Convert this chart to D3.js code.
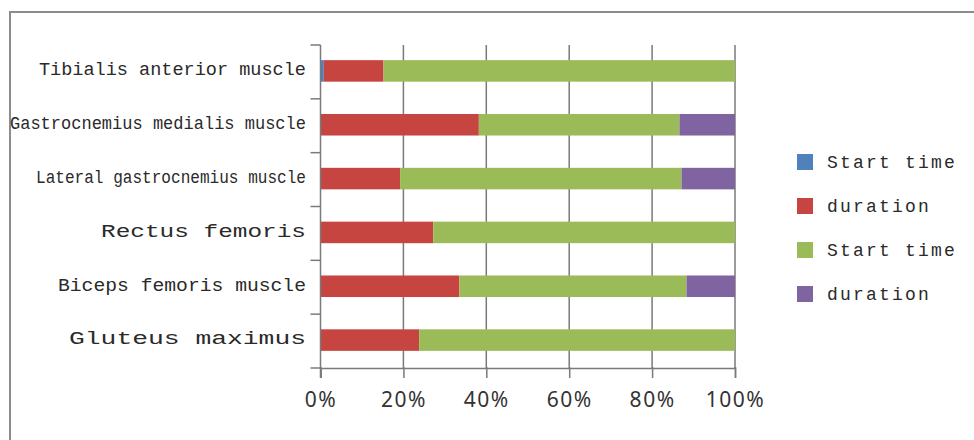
<!DOCTYPE html>
<html>
<head>
<meta charset="utf-8">
<script src="https://cdn.jsdelivr.net/npm/d3@7"></script>
<style>
  body { margin: 0; background: #fff; }
  svg { display: block; }
</style>
</head>
<body>
<svg id="svg"></svg>
<script>
// muscles, top to bottom
const muscles = [
  "Tibialis anterior muscle",
  "Gastrocnemius medialis muscle",
  "Lateral gastrocnemius muscle",
  "Rectus femoris",
  "Biceps femoris muscle",
  "Gluteus maximus"
];
const seriesNames = ["Start time", "duration", "Start time", "duration"];
// percent of the gait cycle
const startTime1 = [0.8, 0, 0, 0, 0, 0];
const duration1 = [14.4, 38.2, 19.2, 27.2, 33.5, 23.8];
const startTime2 = [84.8, 48.4, 67.9, 72.8, 54.8, 76.2];
const duration2 = [0, 13.4, 12.9, 0, 11.7, 0];
const tickValues = [0, 0.2, 0.4, 0.6, 0.8, 1];

const colors = ["#4f81bd", "#c64541", "#9bbb59", "#8064a2"];
// the labels in the picture are squeezed / stretched to these widths
const labelWidths = [267, 296, 270, 205, 248, 237];

function sketch() {
  let svg = d3.select("#svg");
  let width = 974;
  let height = 440;
  svg.attr("width", width).attr("height", height);

  let marginLeft = 320.5;
  let plotRight = 735;
  let plotTop = 45;
  let plotBottom = 368;
  let axisColor = "#7a7a7a";

  // outer frame (runs off the right and bottom edges)
  svg.append("rect")
    .attr("x", 10).attr("y", 12)
    .attr("width", 1000).attr("height", 500)
    .attr("fill", "none")
    .attr("stroke", "#8c8c8c")
    .attr("stroke-width", 2);

  let rows = muscles.map((m, i) => ({
    muscle: m,
    s0: startTime1[i], d0: duration1[i],
    s1: startTime2[i], d1: duration2[i]
  }));
  let keys = ["s0", "d0", "s1", "d1"];

  let stack = d3.stack().keys(keys).offset(d3.stackOffsetExpand);
  let layers = stack(rows);

  let x = d3.scaleLinear().domain([0, 1]).range([marginLeft, plotRight]);
  let y = d3.scaleBand()
    .domain(muscles)
    .range([plotTop, plotBottom])
    .paddingInner(0.6)
    .paddingOuter(0.3);

  let g = svg.append("g");

  // vertical gridlines
  g.selectAll("line.grid")
    .data(tickValues.slice(1))
    .enter().append("line")
    .attr("class", "grid")
    .attr("x1", d => x(d)).attr("x2", d => x(d))
    .attr("y1", plotTop).attr("y2", plotBottom)
    .attr("stroke", axisColor)
    .attr("stroke-width", 1.5);

  // bars
  let layer = g.selectAll("g.layer")
    .data(layers)
    .enter().append("g")
    .attr("class", "layer")
    .attr("fill", (d, i) => colors[i]);

  layer.selectAll("rect")
    .data(d => d)
    .enter().append("rect")
    .attr("x", d => x(d[0]))
    .attr("width", d => Math.max(0, x(d[1]) - x(d[0])))
    .attr("y", d => y(d.data.muscle) - 1)
    .attr("height", y.bandwidth());

  // x axis
  let xAxis = d3.axisBottom(x)
    .tickValues(tickValues)
    .tickFormat(d3.format(".0%"))
    .tickSize(10)
    .tickPadding(14);

  let ax = g.append("g")
    .attr("transform", `translate(0,${plotBottom})`)
    .call(xAxis);
  ax.select(".domain").attr("stroke", axisColor).attr("stroke-width", 1.5);
  ax.selectAll(".tick line")
    .attr("stroke", axisColor).attr("stroke-width", 1.5)
    .attr("y1", -1);
  ax.selectAll(".tick text")
    .attr("font-family", "'Noto Sans', sans-serif")
    .attr("font-size", "21px")
    .attr("letter-spacing", "1.5px")
    .attr("fill", "#333");

  // y axis line with category ticks
  g.append("line")
    .attr("x1", marginLeft).attr("x2", marginLeft)
    .attr("y1", plotTop).attr("y2", plotBottom + 10)
    .attr("stroke", axisColor).attr("stroke-width", 1.5);

  let bounds = muscles.map((m, i) => plotTop + i * y.step());
  bounds.push(plotBottom);
  g.selectAll("line.ytick")
    .data(bounds)
    .enter().append("line")
    .attr("class", "ytick")
    .attr("x1", marginLeft - 10).attr("x2", marginLeft)
    .attr("y1", d => d).attr("y2", d => d)
    .attr("stroke", axisColor).attr("stroke-width", 1.5);

  // category labels
  g.selectAll("text.label")
    .data(muscles)
    .enter().append("text")
    .attr("class", "label")
    .attr("x", 306)
    .attr("y", d => y(d) + y.bandwidth() / 2 - 3)
    .attr("dy", "0.35em")
    .attr("text-anchor", "end")
    .attr("font-family", "'Liberation Mono', monospace")
    .attr("font-size", "18px")
    .attr("fill", "#2a2a2a")
    .attr("textLength", (d, i) => labelWidths[i])
    .attr("lengthAdjust", "spacingAndGlyphs")
    .text(d => d);

  // legend
  let legend = svg.append("g").attr("transform", "translate(797,0)");
  let items = legend.selectAll("g.item")
    .data(seriesNames)
    .enter().append("g")
    .attr("class", "item")
    .attr("transform", (d, i) => `translate(0,${162 + i * 44})`);

  items.append("rect")
    .attr("x", 0).attr("y", -8)
    .attr("width", 16).attr("height", 16)
    .attr("fill", (d, i) => colors[i]);

  items.append("text")
    .attr("x", 30)
    .attr("dy", "0.35em")
    .attr("font-family", "'Liberation Mono', monospace")
    .attr("font-size", "18px")
    .attr("letter-spacing", "2.2px")
    .attr("fill", "#2a2a2a")
    .text(d => d);
}

sketch();
</script>
</body>
</html>
